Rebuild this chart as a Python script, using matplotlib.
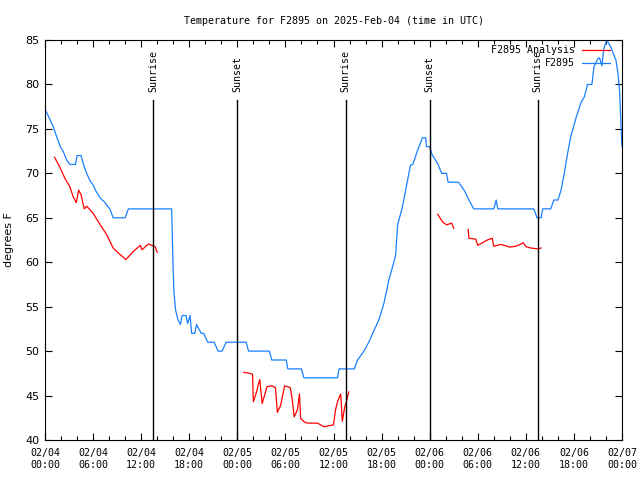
import matplotlib
matplotlib.use("Agg")
import matplotlib.pyplot as plt
import numpy as np

title = "Temperature for F2895 on 2025-Feb-04 (time in UTC)"
ylabel = "degrees F"

# hours since 2025-02-04 00:00 UTC
blue_h = [0.0, 0.5, 1.0, 1.5, 1.9, 2.3, 2.7, 3.1, 3.8, 4.0, 4.5, 4.8, 5.2, 5.6, 6.0, 6.3, 6.9, 7.4, 7.7, 8.1,
          8.5, 10.0, 10.4, 15.8, 16.0, 16.1, 16.3, 16.6, 16.9, 17.1, 17.6, 17.8, 18.1, 18.3, 18.7, 18.9, 19.5,
          19.8, 20.3, 21.1, 21.6, 22.1, 22.6, 25.1, 25.4, 28.0, 28.3, 30.1, 30.3, 32.0, 32.3, 36.5, 36.7, 38.6,
          39.0, 39.8, 40.4, 41.0, 41.7, 42.3, 42.9, 43.5, 43.75, 44.0, 44.6, 45.0, 45.6, 45.9, 46.5, 47.1, 47.5,
          47.6, 48.0, 48.3, 49.0, 49.5, 50.1, 50.3, 51.6, 52.3, 52.9, 53.5, 56.0, 56.3, 56.5, 61.0, 61.4, 61.9,
          62.1, 63.1, 63.5, 64.0, 64.4, 64.8, 65.2, 65.6, 66.25, 66.9, 67.3, 67.7, 68.25, 68.5, 69.0, 69.2, 69.5,
          69.7, 70.1, 70.6, 71.25, 71.5, 71.7, 71.9, 72.0]
blue_v = [77.2, 76.3, 75.3, 74.0, 73.0, 72.4, 71.5, 71.0, 71.0, 72.0, 72.0, 71.0, 70.0, 69.2, 68.7, 68.1, 67.2, 66.8, 66.4, 66.0,
          65.0, 65.0, 66.0, 66.0, 59.0, 56.5, 54.6, 53.5, 53.0, 54.0, 54.0, 53.1, 54.0, 52.0, 52.0, 53.0, 52.0,
          52.0, 51.0, 51.0, 50.0, 50.0, 51.0, 51.0, 50.0, 50.0, 49.0, 49.0, 48.0, 48.0, 47.0, 47.0, 48.0, 48.0,
          49.0, 50.0, 51.0, 52.2, 53.6, 55.4, 58.0, 59.9, 60.8, 64.2, 66.2, 68.1, 70.9, 71.0, 72.6, 74.0, 74.0,
          73.0, 73.0, 72.1, 71.1, 70.0, 70.0, 69.0, 69.0, 68.1, 67.0, 66.0, 66.0, 67.0, 66.0, 66.0, 65.0, 65.0,
          66.0, 66.0, 67.0, 67.0, 68.1, 70.0, 72.2, 74.1, 76.2, 78.0, 78.6, 80.0, 80.0, 82.0, 82.9, 83.0, 82.1,
          83.9, 85.0, 84.2, 82.7, 81.2, 79.2, 74.9, 73.0]

nan = float("nan")
red_h = [1.2, 1.9, 2.5, 3.1, 3.5, 3.9, 4.2, 4.5, 4.9, 5.2, 6.0, 6.9, 7.7, 8.5, 9.2, 10.1, 11.0, 11.9, 12.1, 12.9, 13.75, 14.0,
         14.5,
         24.8, 25.3, 25.9, 26.0, 26.4, 26.6, 26.8, 27.1, 27.7, 28.3, 28.75, 29.0, 29.4, 29.9, 30.6, 30.8, 31.1, 31.5,
         31.75, 31.9, 32.5, 32.9, 34.0, 34.8, 36.0, 36.25, 36.5, 36.9, 37.1, 37.4, 37.6, 37.9,
         38.5,
         49.0, 49.6, 50.1, 50.75, 51.0,
         51.5,
         52.8, 52.9, 53.75, 54.0, 54.6, 55.2, 55.8, 56.0, 56.9, 57.3, 58.0, 58.75, 59.4, 59.7, 60.0, 60.6, 61.5, 61.9]
red_v = [71.8, 70.6, 69.4, 68.5, 67.4, 66.7, 68.1, 67.6, 66.0, 66.3, 65.5, 64.2, 63.1, 61.6, 61.0, 60.3, 61.2, 61.9, 61.4, 62.05, 61.75, 61.1,
         nan,
         47.6, 47.55, 47.4, 44.3, 45.4, 46.2, 46.8, 44.1, 46.0, 46.1, 45.9, 43.1, 43.9, 46.1, 45.9, 44.9, 42.6, 43.4,
         45.2, 42.4, 41.95, 41.9, 41.9, 41.5, 41.7, 43.4, 44.3, 45.2, 42.1, 43.7, 44.3, 45.4,
         nan,
         65.4, 64.55, 64.2, 64.4, 63.8,
         nan,
         63.7, 62.7, 62.6, 61.9, 62.2, 62.5, 62.7, 61.8, 62.0, 61.9, 61.7, 61.8, 62.05, 62.2, 61.75, 61.6, 61.5, 61.6]

sun_h = [13.5, 24.0, 37.5, 48.0, 61.5]
sun_labels = ["Sunrise", "Sunset", "Sunrise", "Sunset", "Sunrise"]

xtick_h = list(range(0, 73, 6))
xtick_labels = ["02/04\n00:00", "02/04\n06:00", "02/04\n12:00", "02/04\n18:00",
                "02/05\n00:00", "02/05\n06:00", "02/05\n12:00", "02/05\n18:00",
                "02/06\n00:00", "02/06\n06:00", "02/06\n12:00", "02/06\n18:00", "02/07\n00:00"]
ytick_v = list(range(40, 86, 5))

mono = "DejaVu Sans Mono"
sans = "DejaVu Sans"

fig = plt.figure(figsize=(6.4, 4.8), dpi=100)
ax = fig.add_axes([45/640, 40/480, 577/640, 400/480])

ax.plot(red_h, red_v, color="#ff0000", lw=0.9, label="F2895 Analysis")
ax.plot(blue_h, blue_v, color="#1a80ff", lw=0.9, label="F2895")

for h, lab in zip(sun_h, sun_labels):
    ax.plot([h, h], [40, 78.25], color="black", lw=1.0)
    ax.text(h, 79.15, lab, rotation=90, ha="center", va="bottom", fontsize=7.2, family=mono)

ax.set_xlim(0, 72)
ax.set_ylim(40, 85)
ax.set_xticks(xtick_h)
ax.set_xticklabels(xtick_labels, fontsize=7.2, family=mono)
ax.set_xticks(list(range(0, 73, 2)), minor=True)
ax.set_yticks(ytick_v)
ax.set_yticklabels([str(v) for v in ytick_v], fontsize=8, family=sans)
ax.tick_params(direction="in", top=True, right=True, length=5, width=0.8, pad=4)
ax.tick_params(which="minor", direction="in", top=True, length=3, width=0.8)
ax.tick_params(axis="x", pad=6)
for s in ax.spines.values():
    s.set_linewidth(0.8)

ax.set_title(title, fontsize=7.2, family=mono, pad=11.5)
ax.set_ylabel(ylabel, fontsize=8, family=sans, labelpad=8)

ax.legend(loc="upper right", frameon=False, markerfirst=False, prop={"family": mono, "size": 7.2},
          handlelength=2.8, handletextpad=0.7, labelspacing=0.3, borderaxespad=0.0,
          bbox_to_anchor=(0.986, 0.997))

fig.savefig("out.png", dpi=100)
